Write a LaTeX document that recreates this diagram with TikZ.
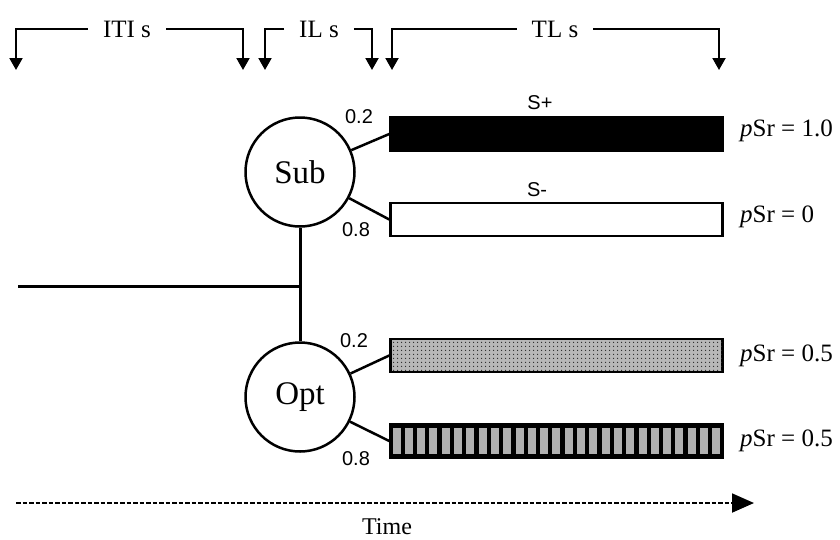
\documentclass[tikz,border=0pt]{standalone}
\usepackage{fontspec}
\setmainfont{Liberation Serif}
\newfontfamily\sansf{Liberation Sans}
\usetikzlibrary{arrows.meta,patterns}
\pgfdeclarepatternformonly{mydots}{\pgfpointorigin}{\pgfpoint{4pt}{4pt}}{\pgfpoint{4pt}{4pt}}{\pgfpathcircle{\pgfpoint{2pt}{2pt}}{0.8pt}\pgfusepath{fill}}
\tikzset{
  brk/.style={line width=2pt,-{Triangle[width=13pt,length=12pt]}},
  brklab/.style={font=\fontsize{25}{28}\selectfont,inner xsep=15pt,inner ysep=0pt},
  stage/.style={circle,draw,line width=2.5pt,minimum size=109pt,inner sep=0pt,font=\fontsize{33}{36}\selectfont},
  bar/.style={rectangle,draw,line width=2.5pt,minimum width=332pt,minimum height=33pt,inner sep=0pt},
  link/.style={line width=2.5pt},
  trunk/.style={line width=3pt},
  prob/.style={font=\sansf\fontsize{20}{23}\selectfont,inner sep=0pt},
  psr/.style={font=\fontsize{25}{28}\selectfont,anchor=base west,inner sep=0pt},
}
\begin{document}
\begin{tikzpicture}[x=1pt,y=-1pt]
\useasboundingbox (0,0) rectangle (840,539);
% top brackets
\node[brklab] (iti) at (127,29) {ITI s};
\node[brklab] (il) at (319,29) {IL s};
\node[brklab] (tl) at (555,29) {TL s};
\coordinate (a1) at (16,70);
\coordinate (a2) at (243,70);
\coordinate (a3) at (265,70);
\coordinate (a4) at (372,70);
\coordinate (a5) at (392,70);
\coordinate (a6) at (719,70);
\draw[brk] (iti.west) -| (a1);
\draw[brk] (iti.east) -| (a2);
\draw[brk] (il.west) -| (a3);
\draw[brk] (il.east) -| (a4);
\draw[brk] (tl.west) -| (a5);
\draw[brk] (tl.east) -| (a6);
% stages
\node[stage] (sub) at (300,172) {Sub};
\node[stage] (opt) at (300,397) {Opt};
\coordinate (start) at (18,286);
\coordinate (junc) at (300,286);
\draw[trunk] (sub.south) -- (opt.north);
\draw[trunk] (start) -- (junc);
% bars
\node[bar,fill=black] (splus) at (556.5,134) {};
\node[bar,fill=white] (sminus) at (556.5,219.5) {};
\node[bar,fill=black!28,postaction={pattern=mydots,pattern color=black!85}] (dotbar) at (556.5,355.5) {};
\node[bar,fill=black] (stripe) at (556.5,441) {};
\foreach \i in {0,...,26}{
  \fill[black!31] ({392.5+12.3*\i},428) rectangle ({400.5+12.3*\i},454);
}
\draw[link] (sub) -- (splus.west);
\draw[link] (sub) -- (sminus.west);
\draw[link] (opt) -- (dotbar.west);
\draw[link] (opt) -- (stripe.west);
% labels
\node[prob] (p1) at (359,117) {0.2};
\node[prob] (p2) at (356,230) {0.8};
\node[prob] (p3) at (354,341) {0.2};
\node[prob] (p4) at (356,459) {0.8};
\node[prob] (lsp) at (540,103) {S+};
\node[prob] (lsm) at (537,190) {S-};
\node[psr] (r1) at (740,136) {\textit{p}Sr = 1.0};
\node[psr] (r2) at (740,222) {\textit{p}Sr = 0};
\node[psr] (r3) at (740,361) {\textit{p}Sr = 0.5};
\node[psr] (r4) at (740,446) {\textit{p}Sr = 0.5};
% time
\coordinate (t0) at (16,503);
\coordinate (t1) at (754,503);
\draw[line width=1.8pt,dash pattern=on 4.5pt off 2pt,-{Triangle[width=19pt,length=22pt]}] (t0) -- (t1);
\node[font=\fontsize{24}{28}\selectfont] (time) at (387,527) {Time};
\end{tikzpicture}
\end{document}
